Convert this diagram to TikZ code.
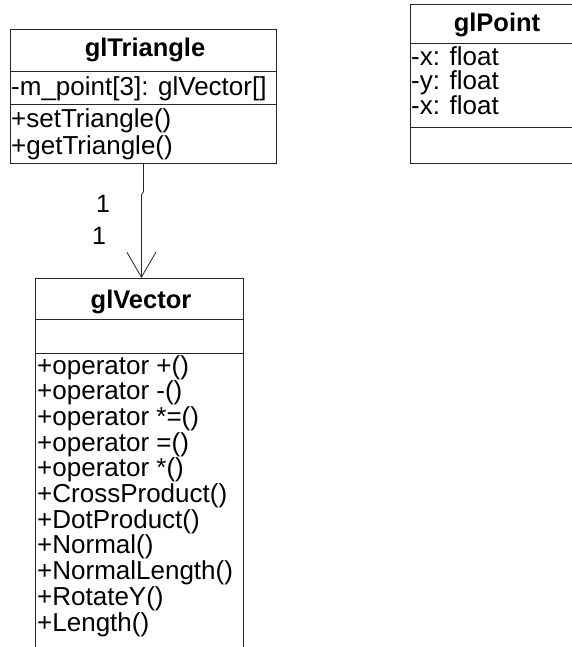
\documentclass[tikz,border=0pt]{standalone}
\usepackage{fontspec}
\setmainfont{Liberation Sans}
\usetikzlibrary{arrows.meta}
\begin{document}
\begin{tikzpicture}[x=1pt,y=-1pt,
  box/.style={draw=black!85, line width=0.8pt, rectangle, anchor=north west, inner sep=0pt},
  classtitle/.style={font=\fontsize{25.5}{25.5}\selectfont\bfseries, anchor=base, inner sep=0pt},
  member/.style={font=\fontsize{26}{26}\selectfont, anchor=base west, inner sep=0pt},
  sep/.style={draw=black!85, line width=0.8pt},
  assoc/.style={draw=black!85, line width=0.8pt, -{Straight Barb[length=25pt,width=29pt]}},
  mult/.style={font=\fontsize{25}{25}\selectfont, anchor=base, inner sep=0pt},
]
\clip (0,0) rectangle (572,647);

% glTriangle
\node[box, minimum width=266, minimum height=134] (tri) at (10,29) {};
\draw[sep] (10,71) -- (276,71);
\draw[sep] (10,104) -- (276,104);
\node[classtitle] (triT) at (145,57) {glTriangle};
\node[member] (triA) at (11,96) {-m\_point[3]: glVector[]};
\node[member] (triM1) at (11,127.5) {+setTriangle()};
\node[member] (triM2) at (11,154) {+getTriangle()};

% glPoint
\node[box, minimum width=174, minimum height=159] (pt) at (410,4) {};
\draw[sep] (410,43) -- (584,43);
\draw[sep] (410,127) -- (584,127);
\node[classtitle] (ptT) at (497,32) {glPoint};
\node[member] (ptA1) at (411,66) {-x: float};
\node[member] (ptA2) at (411,90) {-y: float};
\node[member] (ptA3) at (411,114.5) {-x: float};

% glVector (continues below the lower edge)
\node[box, minimum width=208, minimum height=420] (vec) at (35,278) {};
\draw[sep] (35,319) -- (243,319);
\draw[sep] (35,353) -- (243,353);
\node[classtitle] (vecT) at (141,308) {glVector};
\foreach \t [count=\i] in {+operator +(),+operator -(),+operator *=(),+operator =(),+operator *(),+CrossProduct(),+DotProduct(),+Normal(),+NormalLength(),+RotateY(),+Length()}
  \node[member] (vecM\i) at (37,{374+25.7*(\i-1)}) {\t};

% association glTriangle -> glVector
\draw[assoc] (tri.south) -- ++(0,28) -- ++(-2,3) -- ([xshift=2pt]vec.north);
\node[mult] (m1) at (103,212) {1};
\node[mult] (m2) at (99,244) {1};
\end{tikzpicture}
\end{document}
